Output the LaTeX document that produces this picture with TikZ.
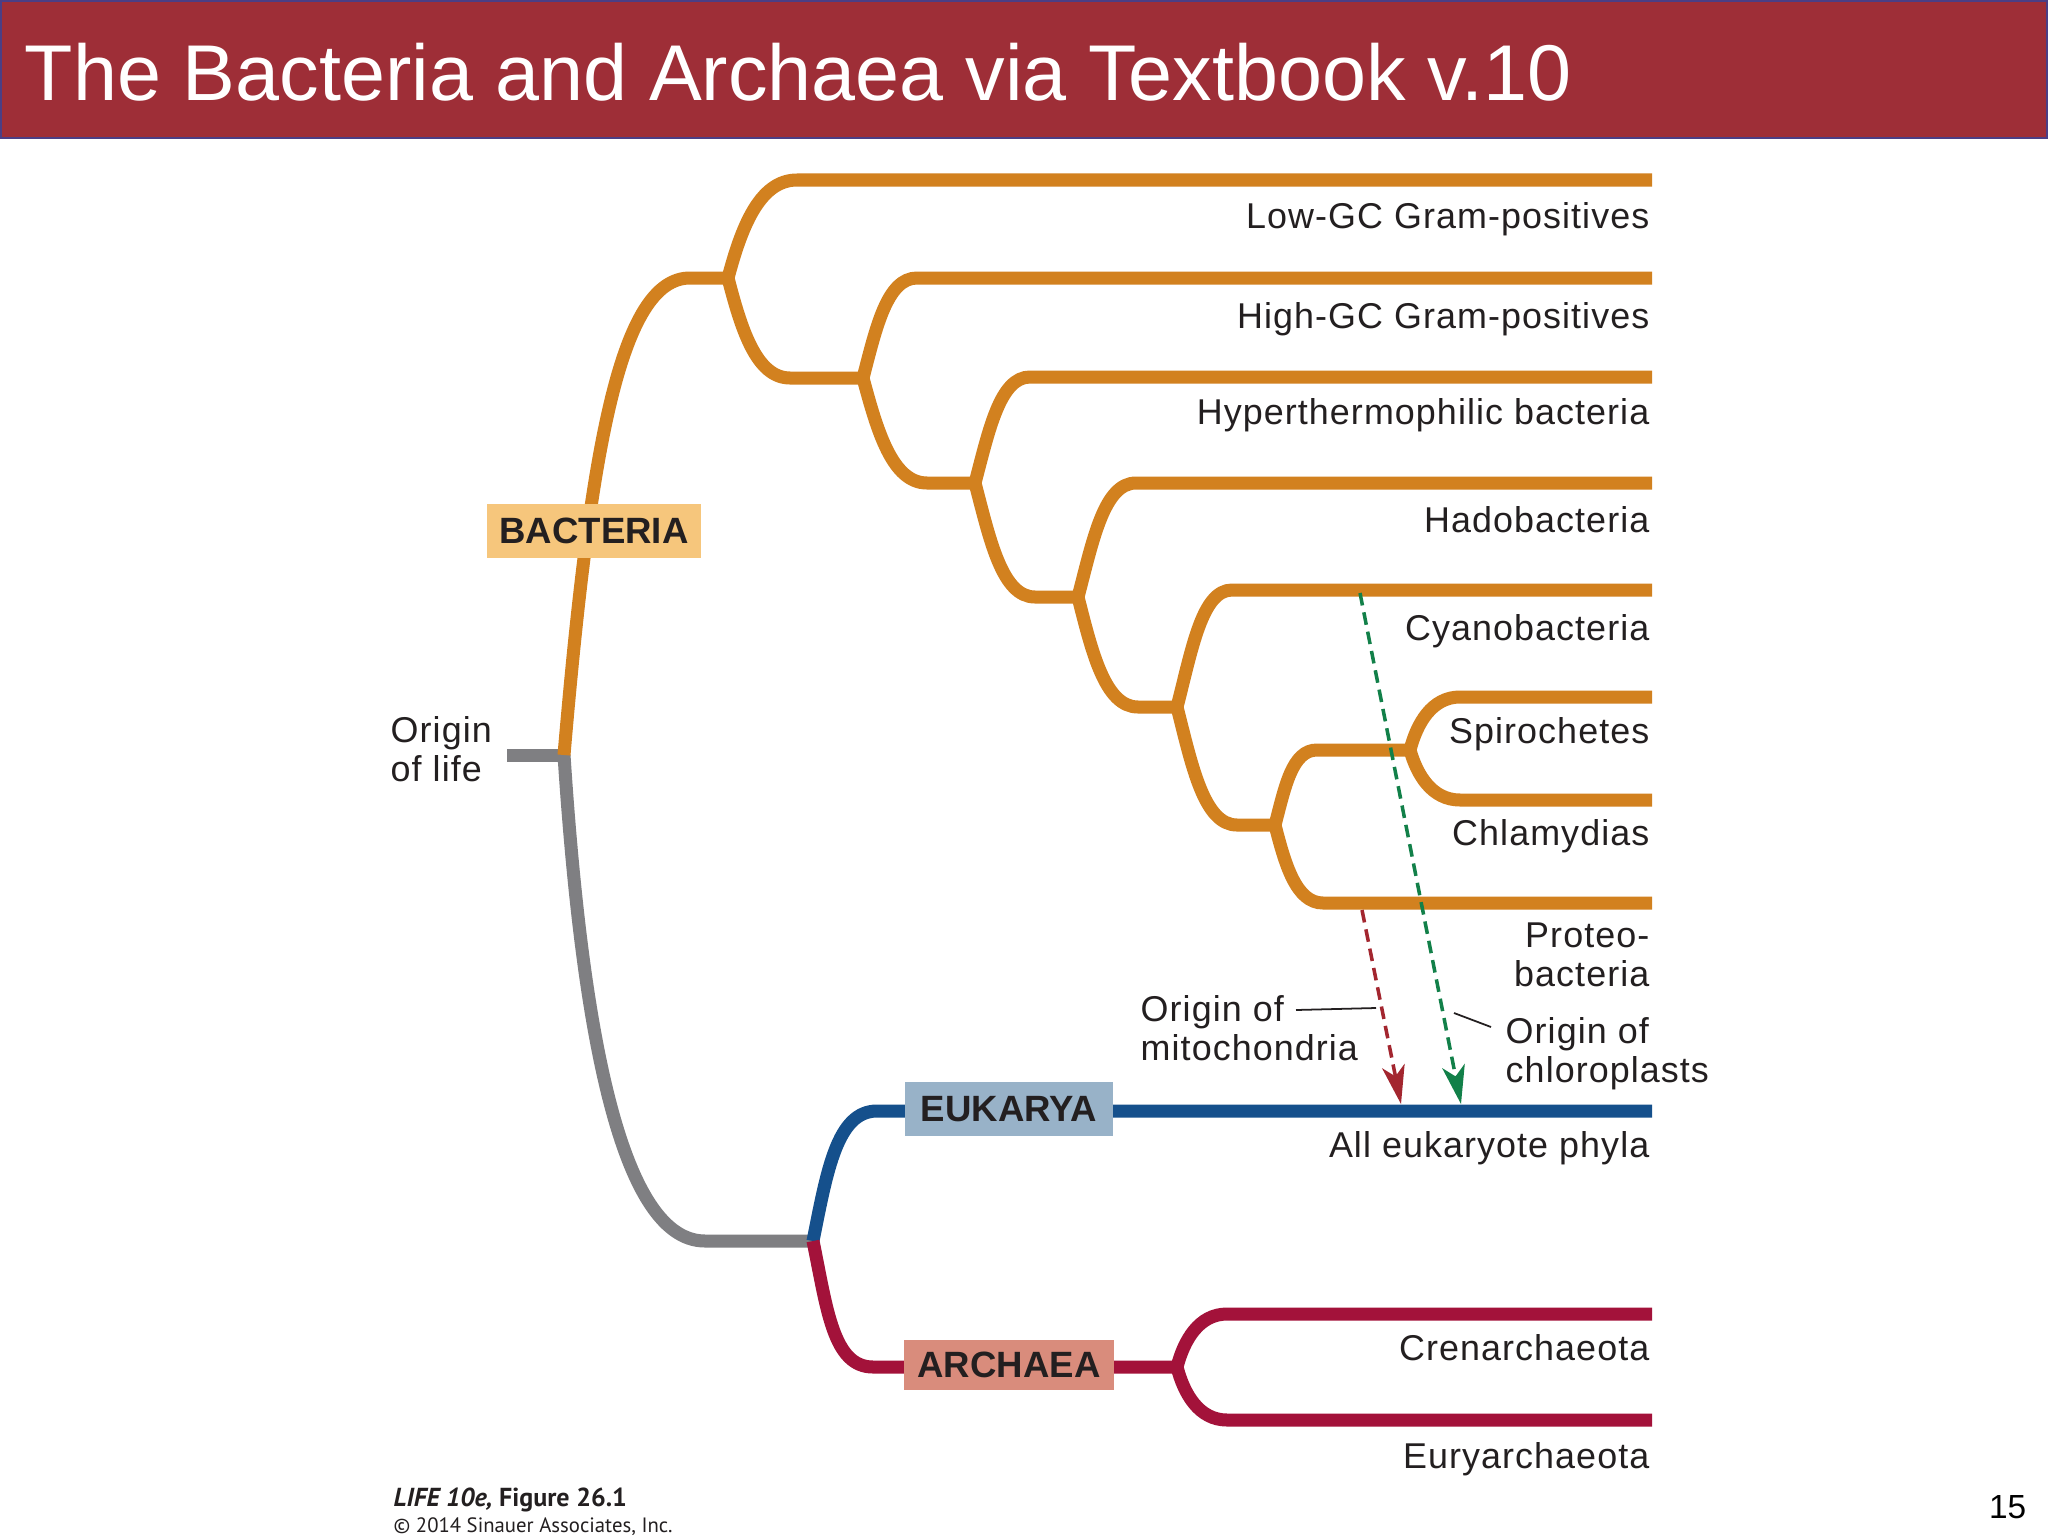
\documentclass[tikz,border=0pt]{standalone}
\usepackage{fontspec}
\setmainfont{Liberation Sans}
\newfontfamily\taxfont[LetterSpace=3]{Liberation Sans}
\newfontfamily\credfont{PT Sans}
\usetikzlibrary{arrows.meta}
\definecolor{bactline}{HTML}{D2811F}
\definecolor{stemline}{HTML}{7F7F82}
\definecolor{eukline}{HTML}{15508C}
\definecolor{archline}{HTML}{A3123A}
\definecolor{bactfill}{HTML}{F6C67C}
\definecolor{eukfill}{HTML}{98B2C8}
\definecolor{archfill}{HTML}{D98C7C}
\definecolor{mitored}{HTML}{A3262F}
\definecolor{chlorogreen}{HTML}{128049}
\definecolor{banner}{HTML}{9E2E37}
\definecolor{bannerline}{HTML}{4B3E85}
\definecolor{ink}{HTML}{231F20}

\begin{document}
\begin{tikzpicture}[
  x=0.01cm, y=-0.01cm,
  font=\taxfont\fontsize{10.2}{11.1}\selectfont, text=ink,
  br/.style={line width=3.7pt},
  tip/.style={anchor=base east, inner sep=0pt},
  note/.style={anchor=north west, inner sep=0pt, align=left},
  tag/.style={inner sep=0pt, text=ink,
              font=\normalfont\bfseries\fontsize{10.4}{12}\selectfont},
  transfer/.style={line width=1pt, dash pattern=on 3.6pt off 2pt,
                   -{Stealth[length=11pt, width=6.5pt, inset=3pt]}},
  lead/.style={line width=0.5pt, ink}
]
\useasboundingbox (0,0) rectangle (2048,1536);
\fill[white] (0,0) rectangle (2048,1536);

% --- banner ---
\fill[banner] (0,0) rectangle (2048,138);
\draw[bannerline, line width=0.6pt] (1,1) rectangle (2047,138);
\node[anchor=base west, inner sep=0pt, text=white,
      font=\normalfont\fontsize{22.5}{27}\selectfont] (title) at (24,100)
  {The Bacteria and Archaea via Textbook v.10};

% --- branch points ---
\coordinate (life)  at (507,755);
\coordinate (root)  at (564,755);
\coordinate (n1)    at (728,278);
\coordinate (n2)    at (863,378);
\coordinate (n3)    at (975,483);
\coordinate (n4)    at (1078,597);
\coordinate (n5)    at (1177,707);
\coordinate (n6)    at (1275,825);
\coordinate (n7)    at (1410,750);
\coordinate (split) at (813,1241);
\coordinate (an)    at (1177,1367);

% --- stem ---
\draw[br, stemline] (life) -- (root);
\draw[br, stemline] (root) .. controls (580,1000) and (615,1241) .. (705,1241) -- (split);

% --- bacteria ---
\draw[br, bactline] (root) .. controls (590,450) and (620,278) .. (690,278) -- (n1);
\draw[br, bactline] (n1) .. controls +(13,-49) and +(-38,0) .. (797,180) -- (1652,180);
\draw[br, bactline] (n1) .. controls +(13,50) and +(-34,0) .. (790,378) -- (n2);
\draw[br, bactline] (n2) .. controls +(13,-50) and +(-30,0) .. (917,278) -- (1652,278);
\draw[br, bactline] (n2) .. controls +(14,52) and +(-35,0) .. (927,483) -- (n3);
\draw[br, bactline] (n3) .. controls +(14,-53) and +(-30,0) .. (1030,377) -- (1652,377);
\draw[br, bactline] (n3) .. controls +(15,57) and +(-33,0) .. (1035,597) -- (n4);
\draw[br, bactline] (n4) .. controls +(15,-57) and +(-32,0) .. (1136,483) -- (1652,483);
\draw[br, bactline] (n4) .. controls +(14,55) and +(-33,0) .. (1138,707) -- (n5);
\draw[br, bactline] (n5) .. controls +(15,-58) and +(-30,0) .. (1232,590) -- (1652,590);
\draw[br, bactline] (n5) .. controls +(15,59) and +(-33,0) .. (1237,825) -- (n6);
\draw[br, bactline] (n6) .. controls +(10,-38) and +(-25,0) .. (1317,750) -- (n7);
\draw[br, bactline] (n6) .. controls +(10,39) and +(-27,0) .. (1323,903) -- (1652,903);
\draw[br, bactline] (n7) .. controls +(7,-27) and +(-28,0) .. (1460,697) -- (1652,697);
\draw[br, bactline] (n7) .. controls +(7,25) and +(-28,0) .. (1460,800) -- (1652,800);

% --- eukarya and archaea ---
\draw[br, eukline] (split) .. controls +(14,-70) and +(-40,0) .. (877,1111) -- (1652,1111);
\draw[br, archline] (split) .. controls +(14,68) and +(-40,0) .. (873,1367) -- (an);
\draw[br, archline] (an) .. controls +(7,-27) and +(-28,0) .. (1227,1314) -- (1652,1314);
\draw[br, archline] (an) .. controls +(7,27) and +(-28,0) .. (1227,1420) -- (1652,1420);

% --- domain tags ---
\node[tag, fill=bactfill, minimum width=2.14cm, minimum height=0.54cm] (bacteria) at (594,531) {BACTERIA};
\node[tag, fill=eukfill, minimum width=2.07cm, minimum height=0.54cm] (eukarya) at (1009,1109) {EUKARYA};
\node[tag, fill=archfill, minimum width=2.10cm, minimum height=0.50cm] (archaea) at (1009,1365) {ARCHAEA};

% --- tip labels ---
\node[tip] (lowgc)    at (1650,228)  {Low-GC Gram-positives};
\node[tip] (highgc)   at (1650,328)  {High-GC Gram-positives};
\node[tip] (hyper)    at (1650,424)  {Hyperthermophilic bacteria};
\node[tip] (hado)     at (1650,532)  {Hadobacteria};
\node[tip] (cyano)    at (1650,640)  {Cyanobacteria};
\node[tip] (spiro)    at (1650,743)  {Spirochetes};
\node[tip] (chlam)    at (1650,845)  {Chlamydias};
\node[tip, anchor=north east, align=right] (proteo) at (1650,922) {Proteo-\\bacteria};
\node[tip] (eukphyla) at (1650,1157) {All eukaryote phyla};
\node[tip] (cren)     at (1650,1360) {Crenarchaeota};
\node[tip] (eury)     at (1650,1468) {Euryarchaeota};

% --- endosymbiosis ---
\node[note] (origin) at (390,716)   {Origin\\of life};
\node[note] (mito)   at (1140,995)  {Origin of\\mitochondria};
\node[note] (chloro) at (1505,1017) {Origin of\\chloroplasts};

\coordinate (mitFrom) at (1362,910);
\coordinate (mitTo)   at (1401,1104);
\coordinate (chlFrom) at (1360,593);
\coordinate (chlTo)   at (1461,1104);
\draw[transfer, mitored] (mitFrom) -- (mitTo);
\draw[transfer, chlorogreen] (chlFrom) -- (chlTo);

\coordinate (mitLeadA) at (1296,1010);
\coordinate (mitLeadB) at (1376,1008);
\coordinate (chlLeadA) at (1454,1013);
\coordinate (chlLeadB) at (1491,1027);
\draw[lead] (mitLeadA) -- (mitLeadB);
\draw[lead] (chlLeadA) -- (chlLeadB);

% --- footer ---
\node[anchor=base west, inner sep=0pt, font=\credfont\bfseries\fontsize{7.4}{8}\selectfont] (figref) at (393,1506)
  {\textit{LIFE 10e,} Figure 26.1};
\node[anchor=base west, inner sep=0pt, font=\credfont\fontsize{5.9}{7}\selectfont] (credit) at (393,1532)
  {\textcopyright{} 2014 Sinauer Associates, Inc.};
\node[anchor=base east, inner sep=0pt, text=black, font=\normalfont\fontsize{9.5}{11}\selectfont] (pagenum) at (2027,1518) {15};
\end{tikzpicture}
\end{document}
